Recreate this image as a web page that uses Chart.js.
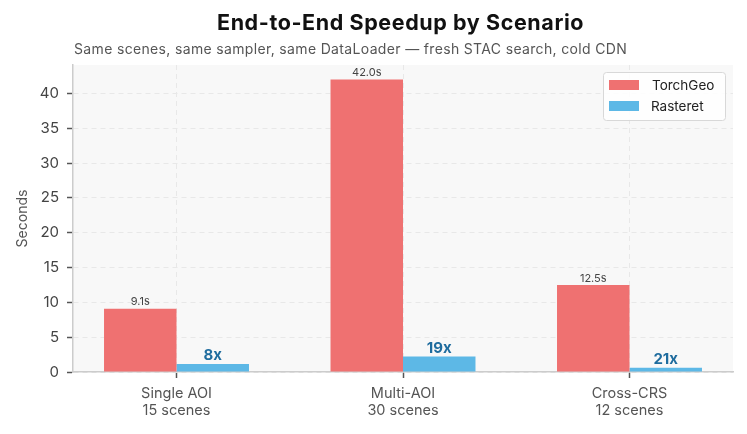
<!DOCTYPE html>
<html>
<head>
<meta charset="utf-8">
<script src="https://cdn.jsdelivr.net/npm/chart.js@4.4.0/dist/chart.umd.min.js"></script>
<style>
  html,body{margin:0;padding:0;background:#fff;}
  #wrap{width:747px;height:434px;position:relative;}
</style>
</head>
<body>
<div id="wrap"><canvas id="c" width="747" height="434"></canvas></div>
<script>
const categories = [["Single AOI","15 scenes"],["Multi-AOI","30 scenes"],["Cross-CRS","12 scenes"]];
const torchgeo = [9.1, 42.0, 12.5];
const rasteret = [1.15, 2.22, 0.6];
const speedupLabels = ["8x","19x","21x"];
const yTicks = [0,5,10,15,20,25,30,35,40];

const FONT = "Inter, 'DejaVu Sans', sans-serif";
const RED = "#ef7171";
const BLUE = "#5db8e6";

function fitText(ctx, text, font, target){
  ctx.font = font;
  ctx.letterSpacing = '0px';
  const w = ctx.measureText(text).width;
  const n = text.length;
  const ls = Math.max(0, (target - w) / n);
  ctx.letterSpacing = ls.toFixed(2) + 'px';
  return ctx.measureText(text).width;
}

const bgPlugin = {
  id: 'bg',
  beforeDraw(chart){
    const {ctx, chartArea:a} = chart;
    ctx.save();
    ctx.fillStyle = '#f8f8f8';
    ctx.fillRect(a.left, a.top, a.right-a.left, a.bottom-a.top);
    ctx.restore();
  },
  afterDraw(chart){
    const {ctx, chartArea:a} = chart;
    ctx.save();
    ctx.fillStyle = '#111';
    ctx.textBaseline = 'middle';
    ctx.textAlign = 'left';
    const t = "End-to-End Speedup by Scenario";
    fitText(ctx, t, "bold 21.5px " + FONT, 367);
    ctx.fillText(t, 217, 24);
    ctx.fillStyle = '#555';
    const s = "Same scenes, same sampler, same DataLoader \u2014 fresh STAC search, cold CDN";
    fitText(ctx, s, "14px " + FONT, 553);
    ctx.fillText(s, 74, 50);
    ctx.letterSpacing = '0px';
    const lx = a.right - 130, ly = a.top + 7, lw = 122, lh = 48;
    ctx.fillStyle = 'rgba(255,255,255,0.85)';
    ctx.strokeStyle = '#d8d8d8';
    ctx.lineWidth = 1;
    ctx.beginPath();
    if (ctx.roundRect) ctx.roundRect(lx+0.5, ly+0.5, lw, lh, 3); else ctx.rect(lx+0.5, ly+0.5, lw, lh);
    ctx.fill(); ctx.stroke();
    const items = [[chart.data.datasets[0].label, RED],[chart.data.datasets[1].label, BLUE]];
    ctx.font = "13.5px " + FONT;
    ctx.textAlign = 'left';
    items.forEach((it,i)=>{
      const yy = ly + 13 + i*21;
      ctx.fillStyle = it[1];
      ctx.fillRect(lx+6, yy-5, 30, 10);
      ctx.fillStyle = '#222';
      ctx.fillText(it[0], lx+49 - (i===1?1:0), yy+1);
    });
    ctx.restore();
  },
  afterDatasetsDraw(chart){
    const {ctx} = chart;
    ctx.save();
    ctx.textAlign = 'center';
    ctx.textBaseline = 'bottom';
    const m0 = chart.getDatasetMeta(0), m1 = chart.getDatasetMeta(1);
    m0.data.forEach((el,i)=>{
      ctx.fillStyle = '#444';
      ctx.font = "11px " + FONT;
      ctx.fillText(torchgeo[i].toFixed(1)+'s', el.x, el.y - 1);
    });
    m1.data.forEach((el,i)=>{
      ctx.fillStyle = '#1f6c9e';
      ctx.font = "bold 15px " + FONT;
      ctx.fillText(speedupLabels[i], el.x, el.y - 1);
    });
    ctx.restore();
  }
};

new Chart(document.getElementById('c'), {
  type: 'bar',
  data: {
    datasets: [
      {label:'TorchGeo', data: torchgeo.map((v,i)=>({x:i, y:v})), backgroundColor: RED, borderWidth:0},
      {label:'Rasteret', data: rasteret.map((v,i)=>({x:i, y:v})), backgroundColor: BLUE, borderWidth:0}
    ]
  },
  options: {
    responsive: false,
    animation: false,
    devicePixelRatio: 1,
    layout: {padding: {left:0, right:14, top:65, bottom:0}},
    plugins: {legend:{display:false}, tooltip:{enabled:false}, title:{display:false}},
    datasets: {bar: {categoryPercentage: 0.64, barPercentage: 1.0}},
    scales: {
      x: {
        type: 'linear',
        offset: false,
        min: -0.457, max: 2.457,
        afterFit(s){ s.height = 62; },
        afterBuildTicks(s){ s.ticks = [0,1,2].map(v=>({value:v})); },
        ticks: {
          callback: (v)=> categories[v] || '',
          color: '#555', font: {family: FONT, size: 14.5}, padding: 7, maxRotation: 0, autoSkip:false
        },
        grid: {offset: false, color: '#e8e8e8', lineWidth: 1, drawTicks: true, tickLength: 6, tickColor: '#555', tickWidth:1.5},
        border: {color: '#cccccc', width: 1.5, dash: [5,4]}
      },
      y: {
        min: 0, max: 44.1,
        afterFit(s){ s.width = 73; },
        afterBuildTicks(s){ s.ticks = yTicks.map(v=>({value:v})); },
        ticks: {color: '#444', font: {family: FONT, size: 15}, padding: 8},
        title: {display: true, text: 'Seconds', color: '#555', font: {family: FONT, size: 14}, padding: {top: 14, bottom: 0}},
        grid: {color: '#e8e8e8', lineWidth: 1, tickLength: 6, tickColor: '#555', tickWidth:1.5},
        border: {color: '#cccccc', width: 1.5, dash: [5,4]}
      }
    }
  },
  plugins: [bgPlugin]
});
</script>
</body>
</html>
